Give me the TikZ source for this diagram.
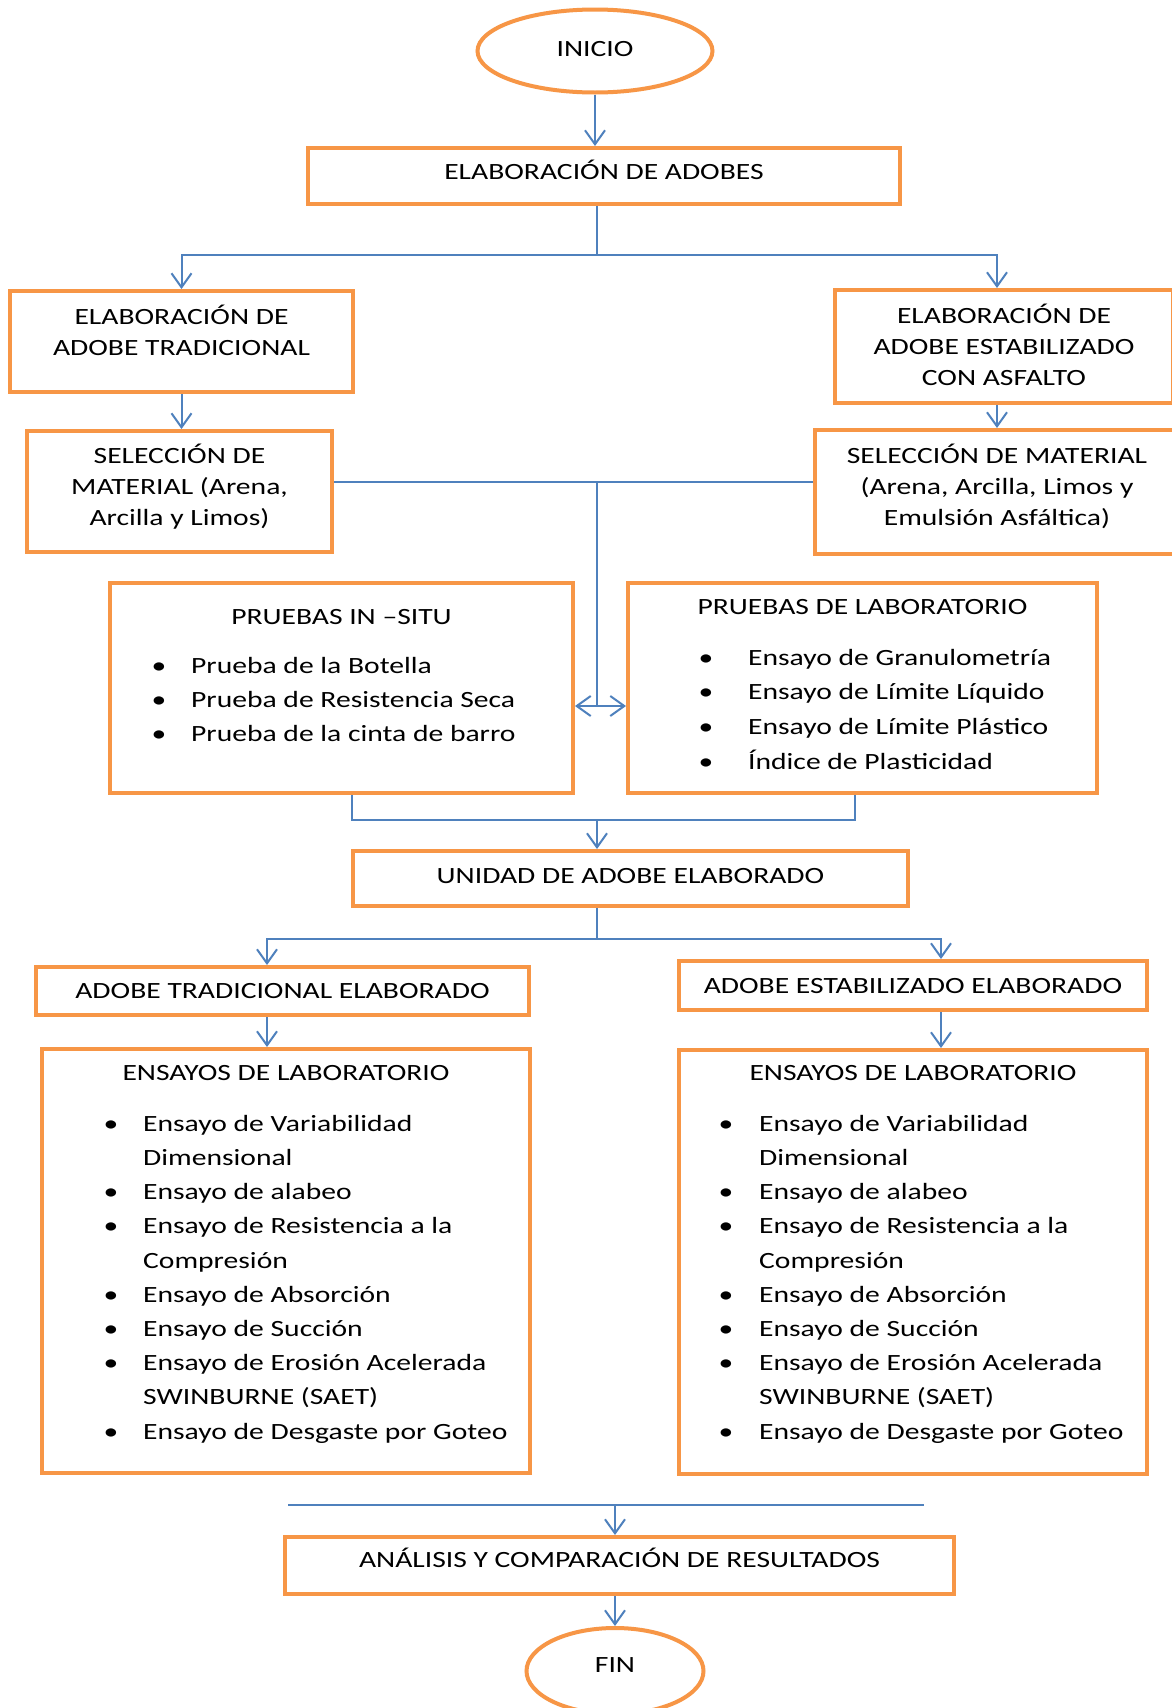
\documentclass[tikz,border=0pt]{standalone}
\usepackage{fontspec}
\setmainfont[FakeStretch=1.27]{Carlito}
\usepackage{xcolor}
\definecolor{boxorange}{HTML}{F79646}
\definecolor{lineblue}{HTML}{4F81BD}
\usepackage{tikz}
\usetikzlibrary{positioning}
\usetikzlibrary{arrows.meta,shapes.geometric}
\usetikzlibrary{calc}

\newcommand{\itm}[2][33pt]{\makebox[#1][l]{\kern-6.5pt•}#2}
\newcommand{\cnt}[2][33pt]{\hspace*{#1}#2}

\tikzset{
  stepbox/.style={draw=boxorange, line width=4pt, rectangle, inner sep=2pt, align=center, font=\fontsize{23.3}{31}\selectfont},
  endpoint/.style={draw=boxorange, line width=4pt, ellipse, inner sep=0pt, font=\fontsize{23.3}{31}\selectfont},
  lift/.style={text height=15pt, text depth=#1},
  boxtext/.style={inner sep=0pt, align=center, font=\fontsize{23.3}{31}\selectfont},
  heading/.style={anchor=base, inner sep=0pt, font=\fontsize{23.3}{31}\selectfont},
  items/.style={anchor=north west, inner sep=0pt, align=left, font=\fontsize{23.3}{34.2}\selectfont},
  flow/.style={lineblue, line width=2pt}
}

\begin{document}
\begin{tikzpicture}[x=1pt,y=-1pt,>={Straight Barb[length=14pt,width=20pt]}]
\fill[white] (0,0) rectangle (1172,1708);
\useasboundingbox (0,0) rectangle (1172,1708);
\clip (0,0) rectangle (1172,1708);

% inicio
\node (inicio) at (595,51) [endpoint, lift=5pt, minimum width=235pt, minimum height=83pt] {INICIO};
\node (adobes) at (604,176) [stepbox, lift=9pt, minimum width=592pt, minimum height=56pt] {ELABORACIÓN DE ADOBES};
\draw[flow,->] (inicio.south) -- (inicio.south |- adobes.north);

% two kinds of adobe
\coordinate (split1) at (597,255);
\node (tradL) at (181.5,341.5) [stepbox, minimum width=343pt, minimum height=101pt] {};
\node (tradR) at (1004,346.5) [stepbox, minimum width=338pt, minimum height=113pt] {};
\node (selL) at (179.5,491.5) [stepbox, minimum width=305pt, minimum height=121pt] {};
\node (selR) at (997,492) [stepbox, minimum width=364pt, minimum height=124pt] {};
\node (tradLT) at ($(tradL)+(0,-11)$) [boxtext] {ELABORACIÓN DE\\ADOBE TRADICIONAL};
\node (tradRT) at ($(tradR)+(0,-2)$) [boxtext] {ELABORACIÓN DE\\ADOBE ESTABILIZADO\\CON ASFALTO};
\node (selLT) at ($(selL)+(0,-4.5)$) [boxtext] {SELECCIÓN DE\\MATERIAL (Arena,\\Arcilla y Limos)};
\node (selRT) at ($(selR)+(0,-5.5)$) [boxtext] {SELECCIÓN DE MATERIAL\\(Arena, Arcilla, Limos y\\Emulsión Asfáltica)};
\draw[flow] (split1 |- adobes.south) -- (split1);
\draw[flow,->] (split1) -| (tradL.north);
\draw[flow,->] (split1) -| (tradR.north -| selR.north);
\draw[flow,->] (tradL.south) -- (tradL.south |- selL.north);
\draw[flow,->] (tradR.south -| selR.north) -- (selR.north);

% pruebas
\coordinate (split2) at (597,482);
\coordinate (split3) at (597,706);
\node (insitu) at (341.5,688) [stepbox, minimum width=463pt, minimum height=210pt] {};
\node (lab) at (862.5,688) [stepbox, minimum width=469pt, minimum height=210pt] {};
\draw[flow] (selL.east |- split2) -- (selR.west |- split2);
\draw[flow] (split2) -- (split3);
\draw[flow,<->] (insitu.east |- split3) -- (lab.west |- split3);

\node (insituT) at (341.5,624.5) [heading] {PRUEBAS IN –SITU};
\node (insituL) at (158,657) [items] {\itm{Prueba de la Botella}\\\itm{Prueba de Resistencia Seca}\\\itm{Prueba de la cinta de barro}};
\node (labT) at (862.5,614.5) [heading] {PRUEBAS DE LABORATORIO};
\node (labL) at (705,649) [items, font=\fontsize{23.3}{34.6}\selectfont] {\itm[43pt]{Ensayo de Granulometría}\\\itm[43pt]{Ensayo de Límite Líquido}\\\itm[43pt]{Ensayo de Límite Plástico}\\\itm[43pt]{Índice de Plasticidad}};

% unidad
\coordinate (join1) at (597,820);
\node (unidad) at (630.5,878.5) [stepbox, lift=6pt, minimum width=555pt, minimum height=55pt] {UNIDAD DE ADOBE ELABORADO};
\draw[flow] ($(insitu.south)+(10,0)$) |- (join1) -| ($(lab.south)+(-8,0)$);
\draw[flow,->] (join1) -- (join1 |- unidad.north);

% ensayos
\coordinate (split4) at (597,939);
\coordinate (dropL) at (267,939);
\coordinate (dropR) at (941,939);
\node (tradE) at (282.5,991) [stepbox, lift=0pt, minimum width=493pt, minimum height=48pt] {ADOBE TRADICIONAL ELABORADO};
\node (estE) at (913,985.5) [stepbox, lift=0pt, minimum width=468pt, minimum height=49pt] {ADOBE ESTABILIZADO ELABORADO};
\node (ensL) at (286,1261) [stepbox, minimum width=488pt, minimum height=424pt] {};
\node (ensR) at (913,1262) [stepbox, minimum width=468pt, minimum height=424pt] {};
\draw[flow] (split4 |- unidad.south) -- (split4);
\draw[flow,->] (split4) -- (dropL) -- (dropL |- tradE.north);
\draw[flow,->] (split4) -- (dropR) -- (dropR |- estE.north);
\draw[flow,->] (dropL |- tradE.south) -- (dropL |- ensL.north);
\draw[flow,->] (dropR |- estE.south) -- (dropR |- ensR.north);

\node (ensLT) at (286,1080.5) [heading] {ENSAYOS DE LABORATORIO};
\node (ensLL) at (110,1115) [items] {\itm{Ensayo de Variabilidad}\\\cnt{Dimensional}\\\itm{Ensayo de alabeo}\\\itm{Ensayo de Resistencia a la}\\\cnt{Compresión}\\\itm{Ensayo de Absorción}\\\itm{Ensayo de Succión}\\\itm{Ensayo de Erosión Acelerada}\\\cnt{SWINBURNE (SAET)}\\\itm{Ensayo de Desgaste por Goteo}};
\node (ensRT) at (913,1080.5) [heading] {ENSAYOS DE LABORATORIO};
\node (ensRL) at (725,1115) [items] {\itm[34pt]{Ensayo de Variabilidad}\\\cnt[34pt]{Dimensional}\\\itm[34pt]{Ensayo de alabeo}\\\itm[34pt]{Ensayo de Resistencia a la}\\\cnt[34pt]{Compresión}\\\itm[34pt]{Ensayo de Absorción}\\\itm[34pt]{Ensayo de Succión}\\\itm[34pt]{Ensayo de Erosión Acelerada}\\\cnt[34pt]{SWINBURNE (SAET)}\\\itm[34pt]{Ensayo de Desgaste por Goteo}};

% final
\coordinate (joinL) at (288,1505);
\coordinate (joinR) at (924,1505);
\coordinate (join2) at (615,1505);
\node (analisis) at (619.5,1565.5) [stepbox, lift=12pt, minimum width=669pt, minimum height=57pt] {ANÁLISIS Y COMPARACIÓN DE RESULTADOS};
\node (fin) at (615,1671) [endpoint, lift=12pt, minimum width=177pt, minimum height=86pt] {FIN};
\draw[flow] (joinL) -- (joinR);
\draw[flow,->] (join2) -- (join2 |- analisis.north);
\draw[flow,->] (join2 |- analisis.south) -- (fin.north);
\end{tikzpicture}
\end{document}
